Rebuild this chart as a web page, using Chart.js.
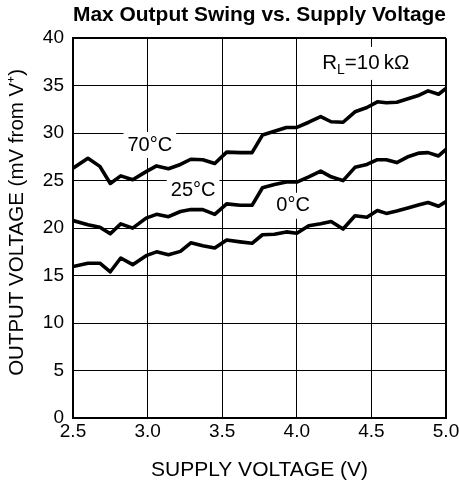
<!DOCTYPE html>
<html lang="en">
<head>
  <meta charset="UTF-8">
  <title>Max Output Swing vs. Supply Voltage</title>
  <script src="https://cdn.jsdelivr.net/npm/chart.js"></script>
  <style>
    html, body {
      margin: 0;
      padding: 0;
      background: #fff;
    }
    #wrap {
      width: 459px;
      height: 487px;
    }
  </style>
</head>
<body>
  <div id="wrap"><canvas id="swingChart"></canvas></div>

  <script>
    // supply voltage (V)
    const supply = [2.5, 2.6, 2.68, 2.75, 2.82, 2.9, 2.99, 3.06, 3.14, 3.22, 3.29, 3.37, 3.45, 3.53, 3.62, 3.7,
                    3.77, 3.85, 3.93, 4.0, 4.08, 4.16, 4.23, 4.31, 4.39, 4.47, 4.54, 4.6, 4.67, 4.75, 4.82, 4.88, 4.95, 5.0];
    // output swing (mV from V+)
    const swing70 = [26.3, 27.35, 26.5, 24.7, 25.5, 25.1, 25.95, 26.55, 26.25, 26.7, 27.25, 27.2, 26.8, 28.0, 27.95, 27.95,
                     29.8, 30.2, 30.6, 30.6, 31.15, 31.75, 31.2, 31.15, 32.25, 32.7, 33.3, 33.2, 33.25, 33.65, 34.0, 34.45, 34.1, 34.7];
    const swing25 = [20.8, 20.35, 20.1, 19.4, 20.45, 20.0, 21.05, 21.45, 21.2, 21.75, 21.95, 21.95, 21.45, 22.55, 22.4, 22.4,
                     24.25, 24.6, 24.85, 24.85, 25.4, 26.0, 25.4, 25.0, 26.4, 26.7, 27.2, 27.2, 26.9, 27.55, 27.9, 27.95, 27.6, 28.3];
    const swing0 = [15.95, 16.3, 16.3, 15.4, 16.85, 16.15, 17.1, 17.5, 17.2, 17.55, 18.45, 18.15, 17.9, 18.75, 18.55, 18.4,
                    19.3, 19.35, 19.6, 19.45, 20.25, 20.45, 20.7, 19.9, 21.3, 21.15, 21.85, 21.55, 21.8, 22.15, 22.45, 22.7, 22.3, 22.8];
    const xTicks = [2.5, 3.0, 3.5, 4.0, 4.5, 5.0];
    const yTicks = [0, 5, 10, 15, 20, 25, 30, 35, 40];

    const FONT = "Arial, 'Liberation Sans', Helvetica, sans-serif";

    function pts(ys) {
      return ys.map((y, i) => ({ x: supply[i], y: y }));
    }

    // curve labels, placed in data units
    const curveLabels = [
      { text: '70°C', x: 3.015, y: 28.75 },
      { text: '25°C', x: 3.305, y: 24.0 },
      { text: '0°C',  x: 3.975, y: 22.35 }
    ];

    const labelPlugin = {
      id: 'curveLabels',
      beforeDatasetsDraw(chart) {
        const { ctx, scales } = chart;
        ctx.save();
        ctx.font = '20px ' + FONT;
        ctx.textAlign = 'center';
        ctx.textBaseline = 'middle';
        curveLabels.forEach(l => {
          const px = scales.x.getPixelForValue(l.x);
          const py = scales.y.getPixelForValue(l.y);
          const w = ctx.measureText(l.text).width;
          ctx.fillStyle = '#fff';
          ctx.fillRect(px - w / 2 - 4, py - 13, w + 8, 26);
          ctx.fillStyle = '#000';
          ctx.fillText(l.text, px, py);
        });

        // R_L = 10 kΩ
        const rx = scales.x.getPixelForValue(4.17);
        const ry = scales.y.getPixelForValue(37.4);
        ctx.textAlign = 'left';
        ctx.font = '20.5px ' + FONT;
        const wR = ctx.measureText('R').width;
        ctx.font = '14px ' + FONT;
        const wL = ctx.measureText('L').width;
        ctx.font = '20.5px ' + FONT;
        const wRest = ctx.measureText('=10\u2009kΩ').width;
        ctx.fillStyle = '#fff';
        ctx.fillRect(rx - 6, ry - 16, wR + wL + wRest + 12, 33);
        ctx.fillStyle = '#000';
        ctx.fillText('R', rx, ry);
        ctx.font = '14px ' + FONT;
        ctx.fillText('L', rx + wR, ry + 7);
        ctx.font = '20.5px ' + FONT;
        ctx.fillText('=10\u2009kΩ', rx + wR + wL, ry);
        ctx.restore();
      }
    };

    const lineStyle = {
      borderColor: '#000',
      borderWidth: 3.6,
      pointRadius: 0,
      tension: 0,
      fill: false,
      borderJoinStyle: 'round'
    };

    new Chart(document.getElementById('swingChart'), {
      type: 'line',
      data: {
        datasets: [
          Object.assign({ label: '70°C', data: pts(swing70) }, lineStyle),
          Object.assign({ label: '25°C', data: pts(swing25) }, lineStyle),
          Object.assign({ label: '0°C', data: pts(swing0) }, lineStyle)
        ]
      },
      options: {
        responsive: true,
        maintainAspectRatio: false,
        animation: false,
        layout: { padding: { left: 0, right: 0, top: 3, bottom: 4 } },
        plugins: {
          legend: { display: false },
          tooltip: { enabled: false },
          title: {
            display: true,
            fullSize: false,
            text: 'Max Output Swing vs. Supply Voltage',
            color: '#000',
            font: { family: FONT, size: 21, weight: 'bold' },
            padding: { top: 0, bottom: 10 }
          }
        },
        scales: {
          x: {
            type: 'linear',
            min: 2.5,
            max: 5.0,
            afterBuildTicks(scale) {
              scale.ticks = xTicks.map(v => ({ value: v }));
            },
            afterFit(scale) {
              scale.height = 65;
              scale.paddingRight = 13;
            },
            ticks: {
              color: '#000',
              font: { family: FONT, size: 19 },
              padding: 2,
              maxRotation: 0,
              callback: v => v.toFixed(1)
            },
            grid: {
              color: '#000',
              lineWidth: c => (c.tick && c.tick.value === 5.0) ? 2 : 1,
              drawTicks: false
            },
            border: { display: true, color: '#000', width: 2 },
            title: {
              display: true,
              text: 'SUPPLY VOLTAGE (V)',
              color: '#000',
              font: { family: FONT, size: 21 },
              padding: { top: 0, bottom: 0 }
            }
          },
          y: {
            min: 0,
            max: 40,
            afterBuildTicks(scale) {
              scale.ticks = yTicks.map(v => ({ value: v }));
            },
            afterFit(scale) { scale.width = 73; },
            ticks: {
              color: '#000',
              font: { family: FONT, size: 19 },
              padding: 9
            },
            grid: {
              color: '#000',
              lineWidth: c => (c.tick && c.tick.value === 40) ? 2 : 1,
              drawTicks: false
            },
            border: { display: true, color: '#000', width: 2 },
            title: {
              display: true,
              text: '  OUTPUT VOLTAGE (mV from V\u207A)',
              color: '#000',
              font: { family: FONT, size: 20.5 },
              padding: { top: 5, bottom: 0 }
            }
          }
        }
      },
      plugins: [labelPlugin]
    });
  </script>
</body>
</html>
